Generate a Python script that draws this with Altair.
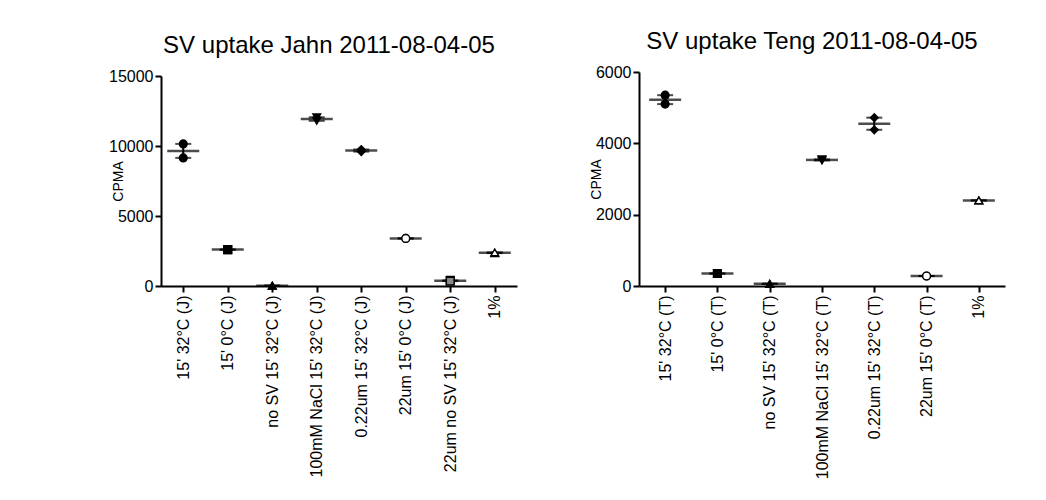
import altair as alt
import pandas as pd

# ---- data ----
jahn_cats = ["15' 32°C (J)", "15' 0°C (J)", "no SV 15' 32°C (J)", "100mM NaCl 15' 32°C (J)",
             "0.22um 15' 32°C (J)", "22um 15' 0°C (J)", "22um no SV 15' 32°C (J)", "1%"]
jahn_rep1 = [10150, 2600, 30, 11800, 9600, 3400, 400, 2350]
jahn_rep2 = [9150, 2600, 20, 12050, 9750, 3400, 350, 2400]

teng_cats = ["15' 32°C (T)", "15' 0°C (T)", "no SV 15' 32°C (T)", "100mM NaCl 15' 32°C (T)",
             "0.22um 15' 32°C (T)", "22um 15' 0°C (T)", "1%"]
teng_rep1 = [5350, 350, 60, 3550, 4720, 280, 2400]
teng_rep2 = [5100, 350, 60, 3520, 4380, 280, 2400]

jahn_shapes = ["circle", "square", "triangle-up", "triangle-down", "diamond", "circle", "square", "triangle-up"]
jahn_fills = ["black", "black", "black", "black", "black", "white", "#8a8a8a", "white"]
teng_shapes = ["circle", "square", "triangle-up", "triangle-down", "diamond", "circle", "triangle-up"]
teng_fills = ["black", "black", "black", "black", "black", "white", "white"]

FONT = "Liberation Sans"


def panel(title, cats, r1, r2, shapes, fills, ymax, ystep, w, h, top_gap):
    df = pd.DataFrame({"cat": cats + cats, "value": r1 + r2})
    xenc = alt.X("cat:N", sort=cats,
                 scale=alt.Scale(type="point", padding=0.5),
                 axis=alt.Axis(title=None, labelAngle=270, labelPadding=3, labelLimit=400))
    yscale = alt.Scale(domain=[0, ymax], nice=False, range=[h, top_gap])
    yaxis = alt.Axis(title="CPMA", values=list(range(0, ymax + 1, ystep)), format="d",
                     titleX=-36, titlePadding=0)

    base = alt.Chart(df)
    stats = base.transform_aggregate(
        mean="mean(value)", sem="stderr(value)", groupby=["cat"]
    ).transform_calculate(lo="datum.mean - datum.sem", hi="datum.mean + datum.sem")

    err = stats.mark_rule(color="black", strokeWidth=2).encode(
        x=xenc, y=alt.Y("lo:Q", scale=yscale, axis=yaxis), y2="hi:Q")
    cap_lo = stats.mark_tick(color="black", size=16, thickness=2).encode(
        x=xenc, y=alt.Y("lo:Q", scale=yscale, axis=yaxis))
    cap_hi = stats.mark_tick(color="black", size=16, thickness=2).encode(
        x=xenc, y=alt.Y("hi:Q", scale=yscale, axis=yaxis))
    mean_tick = stats.mark_tick(color="black", size=32, thickness=2.5).encode(
        x=xenc, y=alt.Y("mean:Q", scale=yscale, axis=yaxis))
    pts = base.mark_point(filled=True, size=60, stroke="black", strokeWidth=1.4, opacity=1).encode(
        x=xenc,
        y=alt.Y("value:Q", scale=yscale, axis=yaxis),
        shape=alt.Shape("cat:N", scale=alt.Scale(domain=cats, range=shapes), legend=None),
        fill=alt.Fill("cat:N", scale=alt.Scale(domain=cats, range=fills), legend=None),
    )
    return alt.layer(err, cap_lo, cap_hi, mean_tick, pts).properties(
        width=w, height=h,
        title=alt.TitleParams(title, fontSize=24, font=FONT, fontWeight="normal",
                              color="black", anchor="middle", offset=10, dx=-10),
    ).resolve_scale(shape="independent", fill="independent")


left = panel("SV uptake Jahn 2011-08-04-05", jahn_cats, jahn_rep1, jahn_rep2,
             jahn_shapes, jahn_fills, 15000, 5000, 356, 214, 4)
right = panel("SV uptake Teng 2011-08-04-05", teng_cats, teng_rep1, teng_rep2,
              teng_shapes, teng_fills, 6000, 2000, 366, 214, 0)

chart = alt.hconcat(left, right, spacing=72).properties(
    padding={"left": 100, "top": 22, "right": 10, "bottom": 5}
).configure_view(stroke=None).configure_axis(
    domainColor="black", domainWidth=2, tickColor="black", tickWidth=2, tickSize=6,
    labelFont=FONT, labelFontSize=16, labelColor="black",
    titleFont=FONT, titleFontSize=14, titleFontWeight="normal", titleColor="black",
    grid=False,
).configure_axisX(labelFontSize=16)

chart.save("out.html", embed_options={"renderer": "svg", "actions": False})
